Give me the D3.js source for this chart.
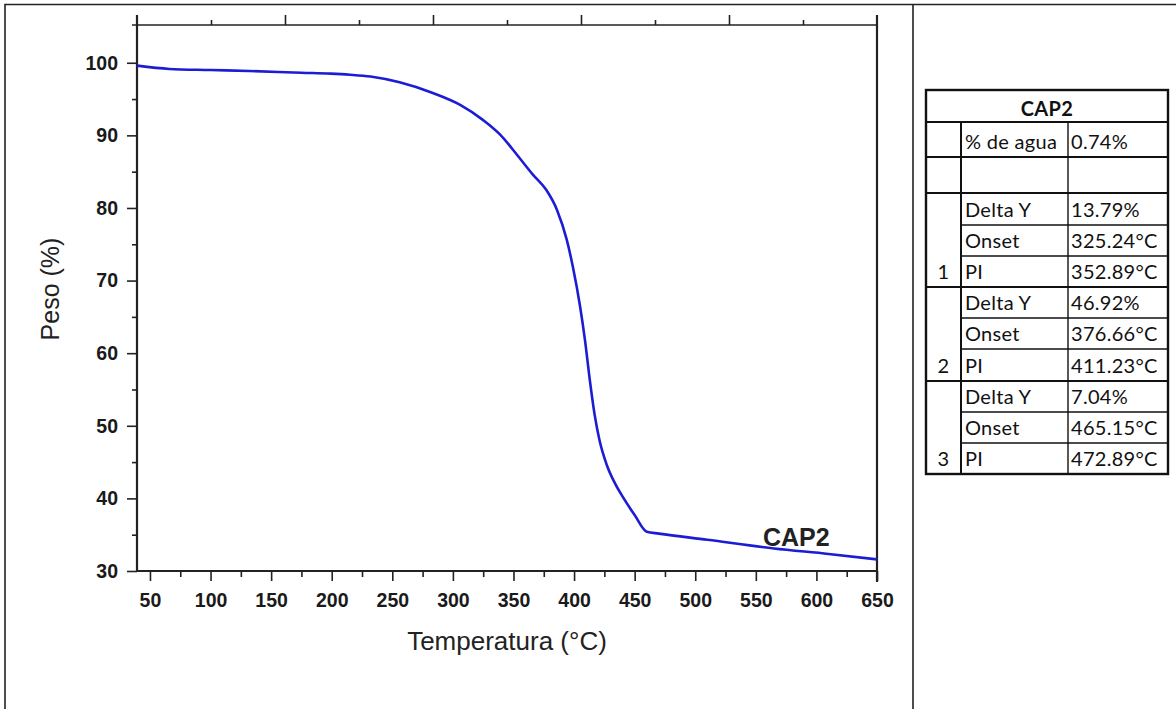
<!DOCTYPE html>
<html>
<head>
<meta charset="utf-8">
<script src="https://cdn.jsdelivr.net/npm/d3@7"></script>
<style>
  body { margin: 0; background: #fff; }
  svg { display: block; }
  .tick text { font-family: "Liberation Sans", Arial, sans-serif; font-weight: bold; font-size: 19.5px; fill: #1a1a1a; }
  .tick line { stroke: #222; stroke-width: 1.6; }
  .cell { font-family: Lato, "Open Sans", sans-serif; font-size: 20px; fill: #111; letter-spacing: 0.3px; }
</style>
</head>
<body>
<div id="chart"></div>
<script>
// curva TGA CAP2
const temps = [39.3, 66, 100, 132, 175, 199, 215, 232, 256, 284, 306, 325, 339, 353, 366, 377, 386, 394, 399, 405,
               409, 413, 417, 421, 427, 434, 441, 450, 460, 470, 510, 565, 610, 650];
const weights = [99.6, 99.15, 99.0, 98.87, 98.62, 98.5, 98.35, 98.1, 97.3, 95.8, 94.2, 92.1, 90.1, 87.3, 84.6, 82.5, 79.7, 75.6, 71.9, 66.4,
                 61.8, 56.3, 51.5, 48.0, 44.6, 42.0, 40.0, 37.7, 35.4, 35.15, 34.3, 33.1, 32.35, 31.6];

const xMajor = [50, 100, 150, 200, 250, 300, 350, 400, 450, 500, 550, 600, 650];
const xMinor = [75, 125, 175, 225, 275, 325, 375, 425, 475, 525, 575, 625];
const yMajor = [30, 40, 50, 60, 70, 80, 90, 100];
const yMinor = [35, 45, 55, 65, 75, 85, 95];

// tabla de resultados
const tableTitle = "CAP2";
const rowLabels = ["% de agua", "", "Delta Y", "Onset", "PI", "Delta Y", "Onset", "PI", "Delta Y", "Onset", "PI"];
const rowValues = ["0.74%", "", "13.79%", "325.24°C", "352.89°C", "46.92%", "376.66°C", "411.23°C", "7.04%", "465.15°C", "472.89°C"];
const rowGroups = ["", "", "", "", "1", "", "", "2", "", "", "3"];

const W = 1176, H = 709;
const svg = d3.select('#chart').append('svg')
    .attr('width', W)
    .attr('height', H);

// marco de la pagina
svg.append('path')
    .attr('d', 'M5,709 V4.5 H1176 M913,4.5 V709')
    .attr('fill', 'none')
    .attr('stroke', '#222')
    .attr('stroke-width', 1.6);

const plot = { left: 137, right: 877, top: 25, bottom: 571 };

let x = d3.scaleLinear().domain([39.3, 650]).range([plot.left, plot.right]);
let y = d3.scaleLinear().domain([30, 105.2]).range([plot.bottom, plot.top]);
// eje superior: solo marcas, sin etiquetas
let xTop = d3.scaleLinear().domain([0, 10]).range([plot.left, plot.right]);

// eje inferior
svg.append('g')
    .attr('transform', `translate(0,${plot.bottom})`)
    .call(d3.axisBottom(x).tickValues(xMajor).tickSize(10).tickPadding(12).tickSizeOuter(0))
    .call(g => g.select('.domain').remove());
svg.append('g')
    .attr('transform', `translate(0,${plot.bottom})`)
    .call(d3.axisBottom(x).tickValues(xMinor).tickSize(6).tickFormat('').tickSizeOuter(0))
    .call(g => g.select('.domain').remove());

// eje izquierdo
svg.append('g')
    .attr('transform', `translate(${plot.left},0)`)
    .call(d3.axisLeft(y).tickValues(yMajor).tickSize(10).tickPadding(9).tickSizeOuter(0))
    .call(g => g.select('.domain').remove());
svg.append('g')
    .attr('transform', `translate(${plot.left},0)`)
    .call(d3.axisLeft(y).tickValues(yMinor).tickSize(5).tickFormat('').tickSizeOuter(0))
    .call(g => g.select('.domain').remove());

// eje superior
svg.append('g')
    .attr('transform', `translate(0,${plot.top})`)
    .call(d3.axisTop(xTop).tickValues([2, 4, 6, 8]).tickSize(10).tickFormat('').tickSizeOuter(0))
    .call(g => g.select('.domain').remove());
svg.append('g')
    .attr('transform', `translate(0,${plot.top})`)
    .call(d3.axisTop(xTop).tickValues([1, 3, 5, 7, 9]).tickSize(5).tickFormat('').tickSizeOuter(0))
    .call(g => g.select('.domain').remove());

// lineas de los ejes
const axisLines = svg.append('g').attr('stroke', '#222').attr('fill', 'none');
axisLines.append('line').attr('x1', plot.left).attr('x2', plot.left).attr('y1', 15).attr('y2', plot.bottom + 1).attr('stroke-width', 2.2);
axisLines.append('line').attr('x1', plot.left - 1).attr('x2', plot.right + 1).attr('y1', plot.bottom).attr('y2', plot.bottom).attr('stroke-width', 2.2);
axisLines.append('line').attr('x1', 132).attr('x2', plot.right).attr('y1', plot.top).attr('y2', plot.top).attr('stroke-width', 1.4);
axisLines.append('line').attr('x1', plot.right).attr('x2', plot.right).attr('y1', 15).attr('y2', plot.bottom + 11).attr('stroke-width', 2.2);

// curva
let line = d3.line()
    .x((d, i) => x(temps[i]))
    .y(d => y(d))
    .curve(d3.curveMonotoneX);

svg.append('path')
    .datum(weights)
    .attr('d', line)
    .attr('fill', 'none')
    .attr('stroke', '#1c1cd4')
    .attr('stroke-width', 2.6)
    .attr('stroke-linejoin', 'round');

svg.append('text')
    .attr('x', 763).attr('y', 546)
    .attr('font-family', '"Liberation Sans", Arial, sans-serif')
    .attr('font-weight', 'bold')
    .attr('font-size', 25)
    .attr('fill', '#222')
    .text('CAP2');

// titulos de ejes
svg.append('text')
    .attr('x', 507).attr('y', 650)
    .attr('text-anchor', 'middle')
    .attr('font-family', '"Liberation Sans", Arial, sans-serif')
    .attr('font-size', 26)
    .attr('fill', '#222')
    .text('Temperatura (°C)');

svg.append('text')
    .attr('transform', 'translate(59,289) rotate(-90)')
    .attr('text-anchor', 'middle')
    .attr('font-family', '"Liberation Sans", Arial, sans-serif')
    .attr('font-size', 25)
    .attr('fill', '#222')
    .text('Peso (%)');

// tabla
const tb = { left: 926, right: 1168, top: 90, c1: 961, c2: 1068 };
const rowH = [35, 36, 32, 31, 31, 31, 31, 32, 31, 31, 31];
let rowBottoms = [];
let acc = 122;
rowH.forEach(h => { acc += h; rowBottoms.push(acc); });
const tableBottom = rowBottoms[rowBottoms.length - 1];

let table = svg.append('g');

table.append('text')
    .attr('x', (tb.left + tb.right) / 2).attr('y', 116)
    .attr('text-anchor', 'middle')
    .attr('class', 'cell')
    .attr('font-weight', 'bold')
    .text(tableTitle);

rowLabels.forEach((lab, i) => {
    let base = rowBottoms[i] - 8;
    table.append('text').attr('class', 'cell').attr('x', tb.c1 + 4).attr('y', base).text(lab);
    table.append('text').attr('class', 'cell').attr('x', tb.c2 + 3).attr('y', base).text(rowValues[i]);
    if (rowGroups[i]) {
        table.append('text').attr('class', 'cell').attr('x', (tb.left + tb.c1) / 2).attr('y', base)
            .attr('text-anchor', 'middle').text(rowGroups[i]);
    }
});

// lineas de la tabla
const tl = table.append('g').attr('stroke', '#111').attr('fill', 'none');
tl.append('line').attr('x1', tb.left).attr('x2', tb.right).attr('y1', 122).attr('y2', 122).attr('stroke-width', 2);
rowBottoms.slice(0, -1).forEach((yy, i) => {
    let full = (i === 0 || i === 1 || i === 4 || i === 7);
    tl.append('line')
        .attr('x1', full ? tb.left : tb.c1).attr('x2', tb.right)
        .attr('y1', yy).attr('y2', yy)
        .attr('stroke-width', full ? 2 : 1.4);
});
tl.append('line').attr('x1', tb.c1).attr('x2', tb.c1).attr('y1', 122).attr('y2', tableBottom).attr('stroke-width', 2);
tl.append('line').attr('x1', tb.c2).attr('x2', tb.c2).attr('y1', 122).attr('y2', tableBottom).attr('stroke-width', 1.4);
tl.append('rect')
    .attr('x', tb.left).attr('y', tb.top)
    .attr('width', tb.right - tb.left).attr('height', tableBottom - tb.top)
    .attr('stroke-width', 2.4);
</script>
</body>
</html>
